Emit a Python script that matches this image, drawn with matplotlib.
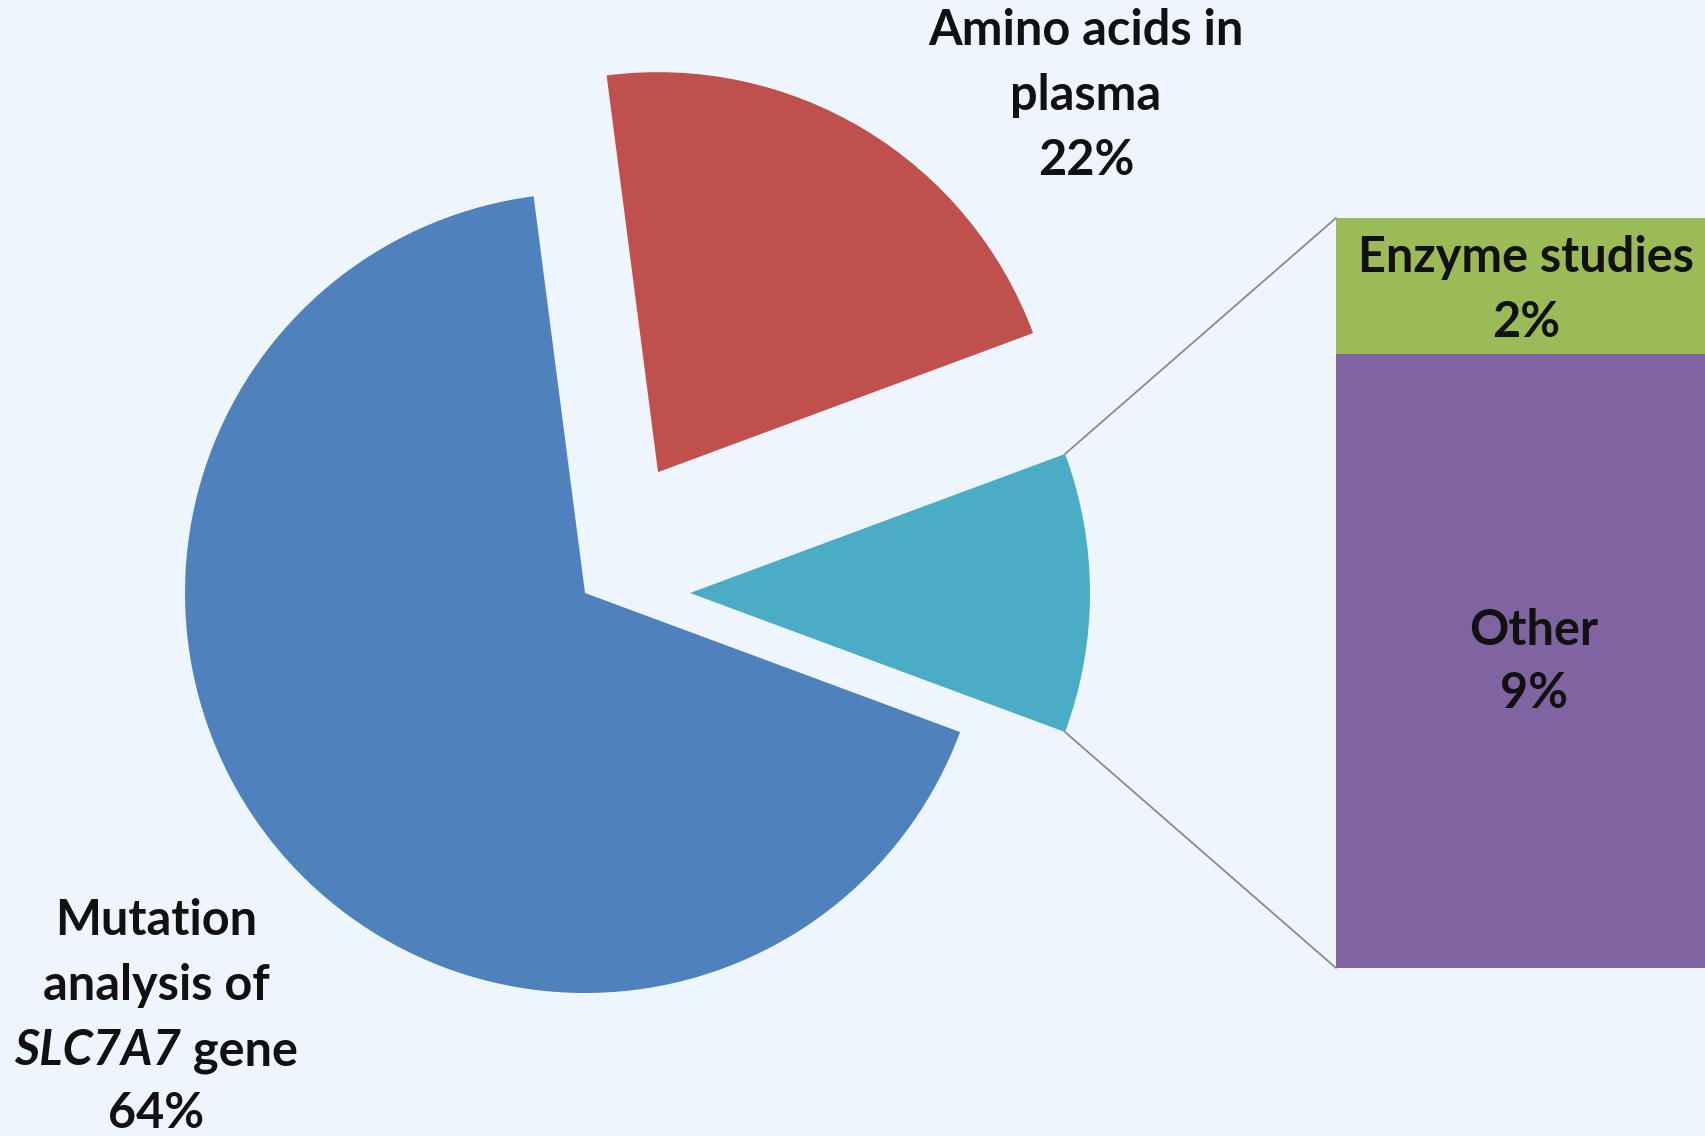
import matplotlib
matplotlib.use("Agg")
import matplotlib.pyplot as plt
from matplotlib.patches import ConnectionPatch
import numpy as np

# ---- data ----
pie_labels = ["Enzyme studies + Other", "Amino acids in plasma", "Mutation analysis of SLC7A7 gene"]
pie_shares = [11.3, 21.4, 67.3]          # drawn slice sizes
pie_pct_labels = [None, 22, 64]          # printed percentages
bar_labels = ["Other", "Enzyme studies"]
bar_values = [9, 2]
pie_colors = ["#4BACC6", "#C0504D", "#4F81BD"]
bar_colors = ["#8064A2", "#9BBB59"]
pie_explode = [0.2625, 0.353, 0.0]

BG = "#EEF5FC"
W, H = 1706, 1136
FONT = "Lato"
FS = 35
TXT = "#111111"

fig = plt.figure(figsize=(W / 100, H / 100), dpi=100, facecolor=BG)

# bar of pie (drawn below the main axes so that labels sit on top)
bax = fig.add_axes([1336 / W, 168 / H, 376 / W, 750 / H])
bax.set_zorder(0)
bottom = 0
for v, c in zip(bar_values, bar_colors):
    bax.bar(0, v, width=1, bottom=bottom, color=c, linewidth=0)
    bottom += v
bax.set_xlim(-0.5, 0.5)
bax.set_ylim(0, sum(bar_values))
bax.axis('off')

ax = fig.add_axes([0, 0, 1, 1])
ax.set_zorder(1)
R = 400
cx, cy = 585, H - 593
total = sum(pie_shares)
start = -0.5 * pie_shares[0] / total * 360
wedges, _ = ax.pie(pie_shares, colors=pie_colors, startangle=start, counterclock=True,
                   radius=R, center=(cx, cy), explode=[e * R for e in pie_explode],
                   wedgeprops=dict(linewidth=0))
ax.set_xlim(0, W)
ax.set_ylim(0, H)
ax.set_aspect('equal')
ax.axis('off')

# connectors
w = wedges[0]
wx, wy = w.center
for th, yb in [(w.theta2, sum(bar_values)), (w.theta1, 0)]:
    p = (wx + w.r * np.cos(np.radians(th)), wy + w.r * np.sin(np.radians(th)))
    con = ConnectionPatch(xyA=p, coordsA=ax.transData, xyB=(-0.5, yb), coordsB=bax.transData,
                          color="#8a8a8a", lw=1.3)
    fig.add_artist(con)

def lines(x, baselines, texts):
    for yb, t in zip(baselines, texts):
        ax.text(x, H - yb, t, ha='center', va='baseline', fontsize=FS,
                fontweight='bold', family=FONT, color=TXT, zorder=5)

lines(1086, [45, 110, 175], ["Amino acids in", "plasma", f"{pie_pct_labels[1]}%"])
lines(1526, [272, 337], [bar_labels[1], f"{bar_values[1]}%"])
lines(1534, [645, 708], [bar_labels[0], f"{bar_values[0]}%"])
lines(156, [935, 1000], ["Mutation", "analysis of"])
lines(156, [1128], [f"{pie_pct_labels[2]}%"])

# mixed italic line
r = fig.canvas.get_renderer()
t1 = ax.text(0, H - 1065, "SLC7A7", ha='left', va='baseline', fontsize=FS, fontweight='bold',
             fontstyle='italic', family=FONT, color=TXT, zorder=5)
t2 = ax.text(0, H - 1065, " gene", ha='left', va='baseline', fontsize=FS, fontweight='bold',
             family=FONT, color=TXT, zorder=5)
w1 = t1.get_window_extent(r).width
w2 = t2.get_window_extent(r).width
x0 = 156 - (w1 + w2) / 2
t1.set_x(x0)
t2.set_x(x0 + w1)

fig.savefig("out.png", dpi=100, facecolor=BG)
